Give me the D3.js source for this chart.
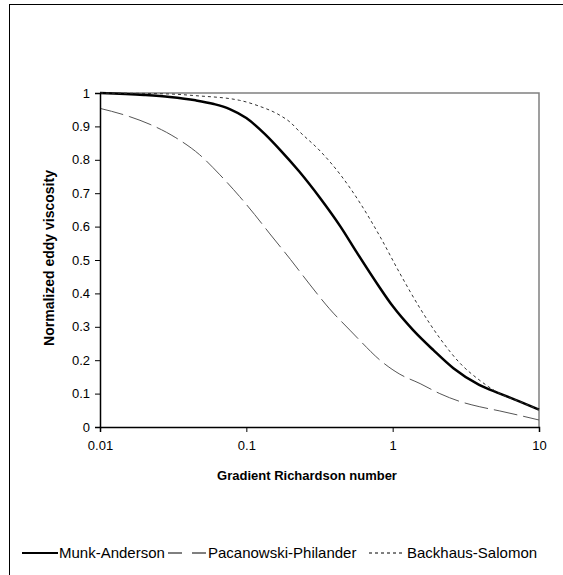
<!DOCTYPE html>
<html>
<head>
<meta charset="utf-8">
<script src="https://cdn.jsdelivr.net/npm/d3@7"></script>
<style>
  body { margin: 0; background: #fff; }
  text { font-family: "Liberation Sans", Arial, sans-serif; }
</style>
</head>
<body>
<div id="chart"></div>
<script>
const width = 563, height = 575;

// values
const munkRi = [0.01, 0.02, 0.03, 0.045, 0.06, 0.077, 0.1, 0.134, 0.17, 0.23, 0.32, 0.44, 0.57, 0.8, 1.0, 1.38, 1.9, 2.6, 3.9, 5.4, 7.4, 10];
const munkNu = [1.0, 0.994, 0.988, 0.978, 0.967, 0.952, 0.925, 0.877, 0.83, 0.765, 0.685, 0.6, 0.522, 0.423, 0.362, 0.29, 0.23, 0.176, 0.126, 0.1, 0.076, 0.052];

const ppRi = [0.01, 0.016, 0.022, 0.033, 0.048, 0.066, 0.09, 0.114, 0.145, 0.2, 0.27, 0.37, 0.51, 0.6, 0.82, 1.12, 1.54, 2.1, 2.9, 3.9, 5.4, 10];
const ppNu = [0.954, 0.929, 0.906, 0.866, 0.815, 0.755, 0.69, 0.636, 0.578, 0.502, 0.428, 0.354, 0.29, 0.258, 0.2, 0.158, 0.13, 0.1, 0.076, 0.061, 0.048, 0.021];

const bsRi = [0.01, 0.03, 0.045, 0.09, 0.12, 0.17, 0.2, 0.23, 0.32, 0.44, 0.6, 0.82, 1.12, 1.54, 2.1, 2.9, 3.9, 5.4, 7.4, 10];
const bsNu = [1.0, 0.997, 0.992, 0.978, 0.962, 0.933, 0.912, 0.885, 0.826, 0.755, 0.67, 0.57, 0.46, 0.355, 0.266, 0.19, 0.141, 0.1, 0.076, 0.052];

const xTicks = [0.01, 0.1, 1, 10];
const yTicks = [0, 0.1, 0.2, 0.3, 0.4, 0.5, 0.6, 0.7, 0.8, 0.9, 1];

const series = [
  { name: "Munk-Anderson", ri: munkRi, nu: munkNu, color: "#000", w: 2.5, dash: null },
  { name: "Pacanowski-Philander", ri: ppRi, nu: ppNu, color: "#555", w: 1, dash: "24,6" },
  { name: "Backhaus-Salomon", ri: bsRi, nu: bsNu, color: "#333", w: 1, dash: "3,3" }
];

const svg = d3.select("#chart").append("svg")
  .attr("width", width)
  .attr("height", height);

// outer chart frame
svg.append("rect")
  .attr("x", 9.5).attr("y", 4.5)
  .attr("width", 570).attr("height", 590)
  .attr("fill", "none").attr("stroke", "#000").attr("stroke-width", 1);

const x = d3.scaleLog().domain([0.01, 10]).range([100, 539]);
const y = d3.scaleLinear().domain([0, 1]).range([427, 93]);

// plot area frame (top/right grey)
svg.append("path")
  .attr("d", `M${x(0.01)},${y(1)}H${x(10)}V${y(0)}`)
  .attr("fill", "none").attr("stroke", "#808080").attr("stroke-width", 1.5);

const line = d3.line()
  .x(d => x(d[0]))
  .y(d => y(d[1]))
  .curve(d3.curveMonotoneX);

series.forEach(s => {
  svg.append("path")
    .datum(s.ri.map((r, i) => [r, s.nu[i]]))
    .attr("d", line)
    .attr("fill", "none")
    .attr("stroke", s.color)
    .attr("stroke-width", s.w)
    .attr("stroke-dasharray", s.dash);
});

const xAxis = svg.append("g")
  .attr("transform", `translate(0,${y(0)})`)
  .call(d3.axisBottom(x).tickValues(xTicks).tickFormat(d => String(d)).tickSize(5).tickPadding(9));

const yAxis = svg.append("g")
  .attr("transform", `translate(${x(0.01)},0)`)
  .call(d3.axisLeft(y).tickValues(yTicks).tickFormat(d => String(d)).tickSize(5).tickPadding(5));

[xAxis, yAxis].forEach(g => {
  g.select(".domain").attr("stroke", "#000").attr("stroke-width", 1.5);
  g.selectAll("text").attr("font-size", 13).attr("fill", "#000")
    .style("font-family", "Liberation Sans, Arial, sans-serif");
});

svg.append("text")
  .attr("x", 307).attr("y", 480)
  .attr("text-anchor", "middle")
  .attr("font-size", 13).attr("font-weight", "bold")
  .text("Gradient Richardson number");

svg.append("text")
  .attr("transform", `translate(54,258) rotate(-90)`)
  .attr("text-anchor", "middle")
  .attr("font-size", 14).attr("font-weight", "bold")
  .text("Normalized eddy viscosity");

// legend
const legend = [
  { s: series[0], x0: 22, x1: 58, tx: 59 },
  { s: series[1], x0: 168, x1: 206, tx: 208 },
  { s: series[2], x0: 369, x1: 402, tx: 407 }
];
const ly = 553;
legend.forEach(l => {
  svg.append("line")
    .attr("x1", l.x0).attr("x2", l.x1)
    .attr("y1", ly).attr("y2", ly)
    .attr("stroke", "#000")
    .attr("stroke-width", l.s.w === 2.5 ? 2 : 1)
    .attr("stroke-dasharray", l.s.dash === "24,6" ? "14,10" : l.s.dash);
  svg.append("text")
    .attr("x", l.tx).attr("y", ly + 5)
    .attr("font-size", 15)
    .text(l.s.name);
});
</script>
</body>
</html>
